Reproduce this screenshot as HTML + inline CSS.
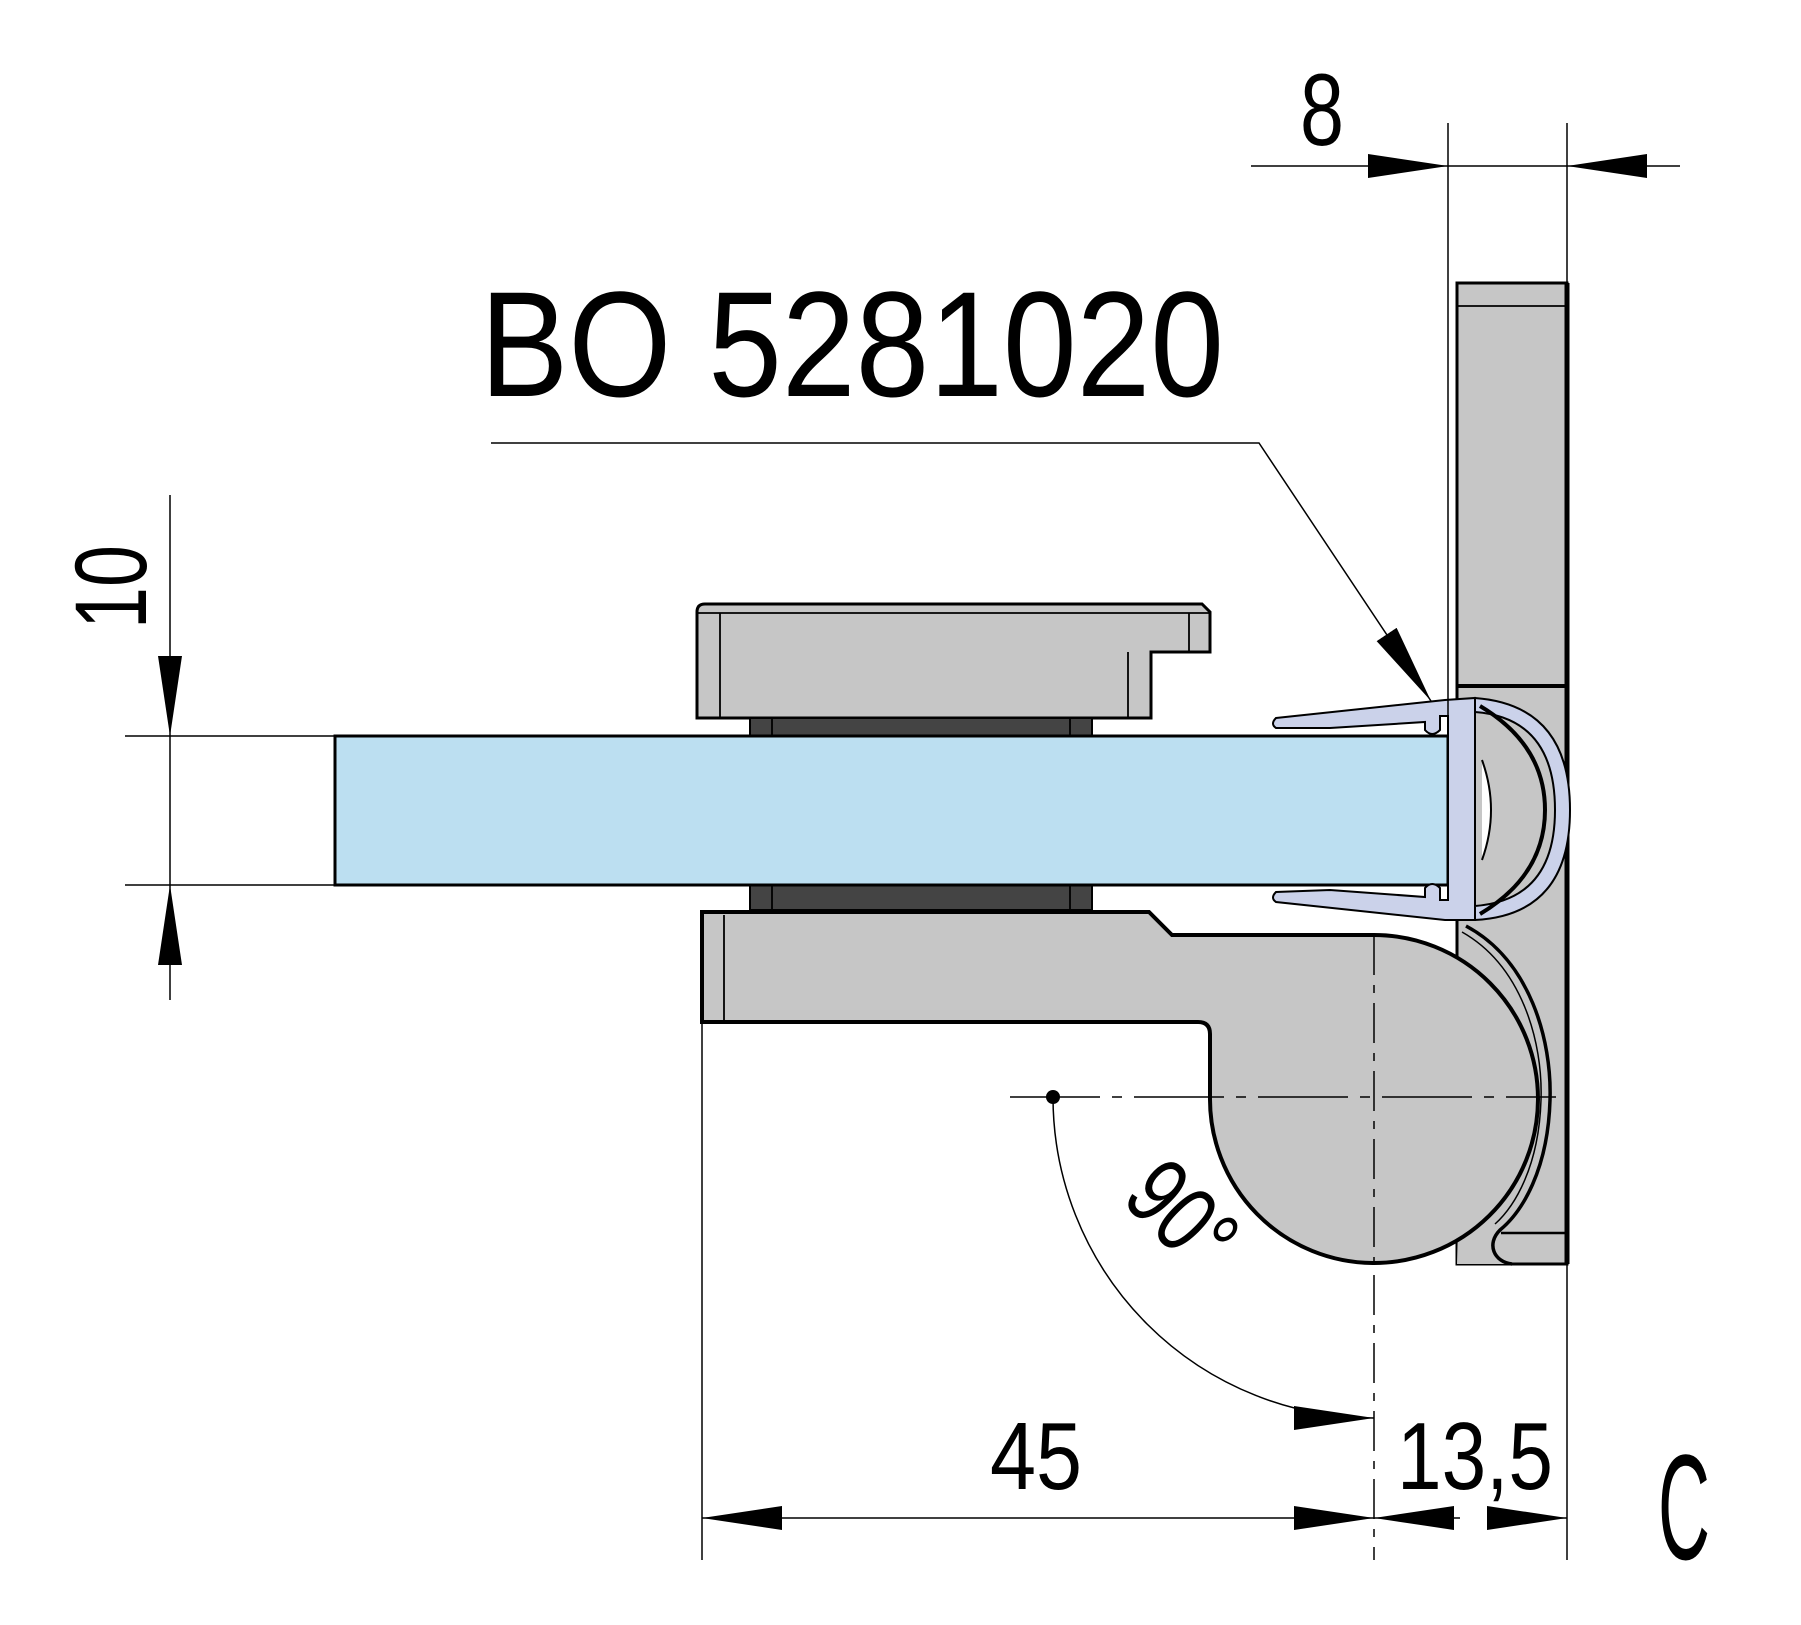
<!DOCTYPE html>
<html><head><meta charset="utf-8"><style>html,body{margin:0;padding:0;background:#fff}svg{display:block}</style></head>
<body>
<svg width="1801" height="1625" viewBox="0 0 1801 1625" xmlns="http://www.w3.org/2000/svg" font-family="Liberation Sans, sans-serif">
<defs>
<marker id="a" viewBox="0 0 80 24" refX="80" refY="12" markerWidth="80" markerHeight="24" markerUnits="userSpaceOnUse" orient="auto"><path d="M0,0 L80,12 L0,24 Z" fill="#000"/></marker>
</defs>
<g stroke="#000" stroke-width="1.8" fill="none">
<rect x="1457" y="283" width="110" height="981" fill="#c6c6c6" stroke-width="3"/>
<line x1="1457" y1="306" x2="1567" y2="306"/>
<line x1="1457" y1="686" x2="1567" y2="686" stroke-width="4"/>
<line x1="1501" y1="1233" x2="1567" y2="1233" stroke-width="2.5"/>
<line x1="1567" y1="283" x2="1567" y2="1264" stroke-width="5"/>
<path d="M697,612 Q697,604 705,604 L1202,604 L1210,612 L1210,652 L1151,652 L1151,718 L697,718 Z" fill="#c6c6c6" stroke-width="3"/>
<line x1="697" y1="613" x2="1210" y2="613"/>
<line x1="720" y1="613" x2="720" y2="718"/>
<line x1="1189" y1="613" x2="1189" y2="652"/>
<line x1="1128" y1="652" x2="1128" y2="718"/>
<rect x="750" y="718" width="342" height="18" fill="#444" stroke-width="2"/>
<line x1="772" y1="718" x2="772" y2="736"/><line x1="1070" y1="718" x2="1070" y2="736"/>
<rect x="750" y="885" width="342" height="25" fill="#444" stroke-width="2"/>
<line x1="772" y1="885" x2="772" y2="910"/><line x1="1070" y1="885" x2="1070" y2="910"/>
<path d="M1466,926 C1530,960 1552,1040 1550,1100 C1548,1170 1522,1212 1500,1230 C1486,1244 1494,1262 1512,1264 L1457,1264 Z" fill="#c6c6c6" stroke="none"/>
<path d="M702,912 L1149,912 L1172,935 L1374,935 A164,164 0 1,1 1210,1097 L1210,1034 Q1210,1022 1198,1022 L702,1022 Z" fill="#c6c6c6" stroke-width="4"/>
<line x1="724" y1="915" x2="724" y2="1020"/>
<path d="M1466,926 C1530,960 1552,1040 1550,1100 C1548,1170 1522,1212 1500,1230 C1486,1244 1494,1262 1512,1264" stroke-width="3.5"/>
<path d="M1462,932 C1522,966 1543,1042 1541,1100 C1539,1166 1515,1206 1495,1224" stroke-width="1.5"/>
<rect x="335" y="736" width="1113" height="149" fill="#bcdff1" stroke-width="3"/>
<g fill="#cbd2ea" stroke-width="2">
<path d="M1276,718 L1445,700 L1475,698 L1475,920 L1445,920 L1276,902 Q1270,898 1276,892 L1330,890 L1425,897 L1425,888 Q1432,880 1440,888 L1440,900 L1448,900 L1448,716 L1440,716 L1440,730 Q1432,738 1425,730 L1425,722 L1330,728 L1276,728 Q1270,724 1276,718 Z"/>
<path d="M1475,698 Q1570,705 1570,810 Q1570,915 1475,920 L1475,906 Q1555,900 1555,810 Q1555,718 1475,712 Z"/>
</g>
<path d="M1480,706 Q1545,745 1545,810 Q1545,875 1480,914" stroke-width="4"/>
<path d="M1482,760 Q1500,810 1482,860" stroke-width="2" fill="#fff"/>
<line x1="1374" y1="935" x2="1374" y2="1560" stroke-dasharray="40,10,8,10" stroke-width="1.5"/>
<line x1="1010" y1="1097" x2="1556" y2="1097" stroke-dasharray="90,12,10,12" stroke-width="1.5"/>
<line x1="125" y1="736" x2="335" y2="736" stroke-width="1.5"/>
<line x1="125" y1="885" x2="335" y2="885" stroke-width="1.5"/>
<line x1="170" y1="495" x2="170" y2="736" marker-end="url(#a)" stroke-width="1.5"/>
<line x1="170" y1="1000" x2="170" y2="885" marker-end="url(#a)" stroke-width="1.5"/>
<line x1="170" y1="736" x2="170" y2="885" stroke-width="1.5"/>
<line x1="1448" y1="123" x2="1448" y2="736" stroke-width="1.5"/>
<line x1="1567" y1="123" x2="1567" y2="283" stroke-width="1.5"/>
<line x1="1251" y1="166" x2="1448" y2="166" marker-end="url(#a)" stroke-width="1.5"/>
<line x1="1680" y1="166" x2="1567" y2="166" marker-end="url(#a)" stroke-width="1.5"/>
<line x1="1448" y1="166" x2="1567" y2="166" stroke-width="1.5"/>
<path d="M491,443 L1259,443 L1431,701" stroke-width="1.5" marker-end="url(#a)"/>
<line x1="702" y1="1022" x2="702" y2="1560" stroke-width="1.5"/>
<line x1="1567" y1="1264" x2="1567" y2="1560" stroke-width="1.5"/>
<line x1="1000" y1="1518" x2="702" y2="1518" marker-end="url(#a)" stroke-width="1.5"/>
<line x1="1000" y1="1518" x2="1374" y2="1518" marker-end="url(#a)" stroke-width="1.5"/>
<line x1="1460" y1="1518" x2="1374" y2="1518" marker-end="url(#a)" stroke-width="1.5"/>
<line x1="1490" y1="1518" x2="1567" y2="1518" marker-end="url(#a)" stroke-width="1.5"/>
<path d="M1053,1097 A321,321 0 0,0 1374,1418" stroke-width="1.5" marker-end="url(#a)"/>
</g>
<circle cx="1053" cy="1097" r="7" fill="#000"/>
<g fill="#000">
<text x="480" y="396" font-size="150" textLength="744" lengthAdjust="spacingAndGlyphs">BO 5281020</text>
<text x="1300" y="145" font-size="102" textLength="44" lengthAdjust="spacingAndGlyphs">8</text>
<text transform="translate(146,629) rotate(-90)" font-size="102" textLength="84" lengthAdjust="spacingAndGlyphs">10</text>
<text x="990" y="1489" font-size="96" textLength="92" lengthAdjust="spacingAndGlyphs">45</text>
<text x="1397" y="1489" font-size="96" textLength="156" lengthAdjust="spacingAndGlyphs">13,5</text>
<text x="1658" y="1559" font-size="150" textLength="52" lengthAdjust="spacingAndGlyphs">C</text>
<text transform="translate(1120,1200) rotate(45)" font-size="96" textLength="110" lengthAdjust="spacingAndGlyphs">90°</text>
</g>
</svg>
</body></html>
